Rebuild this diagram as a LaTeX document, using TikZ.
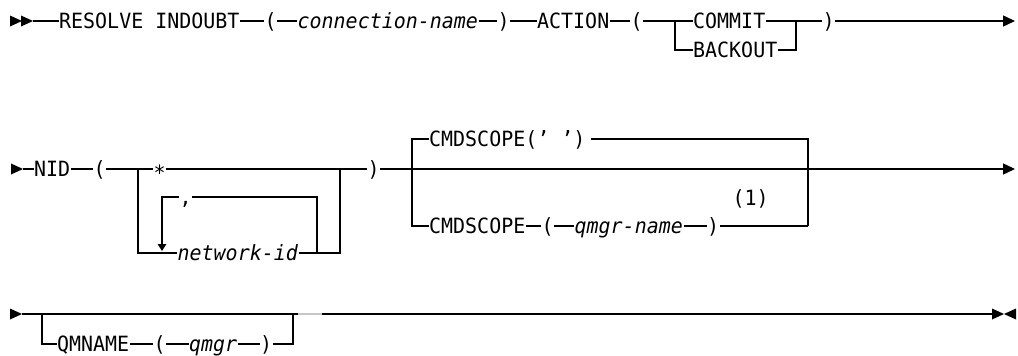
\documentclass[tikz,border=0pt]{standalone}
\usepackage{fontspec}
\setmonofont{DejaVu Sans Mono}[FakeStretch=0.95]
\usetikzlibrary{arrows.meta}

\newcommand{\railtok}{\fontsize{21}{25}\selectfont\ttfamily}
\newcommand{\tipright}[2]{\fill (#1,#2-5.5) -- (#1+12,#2) -- (#1,#2+5.5) -- cycle;}
\newcommand{\tipleft}[2]{\fill (#1+12,#2-5.5) -- (#1,#2) -- (#1+12,#2+5.5) -- cycle;}

\begin{document}
\begin{tikzpicture}[x=1pt, y=-1pt, line width=1.4pt, >={Triangle[length=12pt,width=11pt]},
  kw/.style={font=\railtok, inner sep=0pt, text height=15.3pt, text depth=0pt, anchor=west},
  var/.style={kw, font=\railtok\itshape},
  looptip/.style={-{Triangle[length=7pt,width=8.5pt]}}]
  \useasboundingbox (0,0) rectangle (1018,356);

  % first line
  \tipright{10}{21}
  \tipright{21}{21}
  \coordinate (s1) at (33,21);
  \node[kw] (resolve) at (58.5,21) {RESOLVE INDOUBT};
  \node[kw] (lpA) at (264,21) {(};
  \node[var] (cname) at (297,21) {connection-name};
  \node[kw] (rpA) at (497,21) {)};
  \node[kw] (action) at (536.5,21) {ACTION};
  \node[kw] (lpB) at (630,21) {(};
  \coordinate (b1l) at (675,21);
  \node[kw] (commit) at (692.5,21) {COMMIT};
  \node[kw] (backout) at (692.5,50) {BACKOUT};
  \coordinate (b1r) at (796,21);
  \node[kw] (rpB) at (822,21) {)};
  \coordinate (e1) at (1015,21);
  \draw[->] (s1) -- (resolve) -- (lpA) -- (cname) -- (rpA) -- (action) -- (lpB) -- (b1l) -- (commit) -- (b1r) -- (rpB) -- (e1);
  \draw (b1l) |- (backout) -| (b1r);

  % second line
  \tipright{11}{169}
  \coordinate (s2) at (23,169);
  \node[kw] (nid) at (33.5,169) {NID};
  \node[kw] (lpC) at (93,169) {(};
  \coordinate (b3l) at (138,169);
  \node[kw] (star) at (153,169) {\raisebox{-4pt}{*}};
  \coordinate (b3r) at (340,169);
  \node[var] (netid) at (177,253) {network-id};
  \node[kw] (sep) at (179,197) {,};
  \coordinate (lpr) at (317,253);
  \coordinate (lpl) at (162,251);
  \node[kw] (rpC) at (367,169) {)};
  \coordinate (b2l) at (412,169);
  \node[kw] (cmdtop) at (428.5,139) {CMDSCOPE(’ ’)};
  \node[kw] (cmdbot) at (428.5,226) {CMDSCOPE};
  \node[kw] (lpD) at (541,226) {(};
  \node[var] (qname) at (574,226) {qmgr-name};
  \node[kw] (rpD) at (706.5,226) {)};
  \coordinate (b2r) at (808,226);
  \node[kw] (note) at (732,198) {(1)};
  \coordinate (e2) at (1015,169);
  \draw[->] (s2) -- (nid) -- (lpC) -- (star) -- (rpC) -- (e2);
  \draw (b3l) |- (netid) -| (b3r);
  \draw (lpr) |- (sep);
  \draw[looptip] (sep) -| (lpl);
  \draw (b2l) |- (cmdtop);
  \draw ([xshift=5pt]cmdtop.east) -| (b2r);
  \draw (b2l) |- (cmdbot) -- (lpD) -- (qname) -- (rpD) -- (b2r);

  % third line
  \tipright{10}{314}
  \coordinate (s3) at (22,314);
  \coordinate (b4l) at (42,314);
  \node[kw] (qmname) at (56.5,344) {QMNAME};
  \node[kw] (lpE) at (153,344) {(};
  \node[var] (qmgr) at (188.5,344) {qmgr};
  \node[kw] (rpE) at (259.5,344) {)};
  \coordinate (b4r) at (293,314);
  \coordinate (e3) at (993,314);
  \draw (s3) -- (e3);
  \draw (b4l) |- (qmname) -- (lpE) -- (qmgr) -- (rpE) -| (b4r);
  \draw[gray!45, line width=2.4pt] (298,314) -- (322,314);
  \tipright{992}{314}
  \tipleft{1004}{314}
\end{tikzpicture}
\end{document}
